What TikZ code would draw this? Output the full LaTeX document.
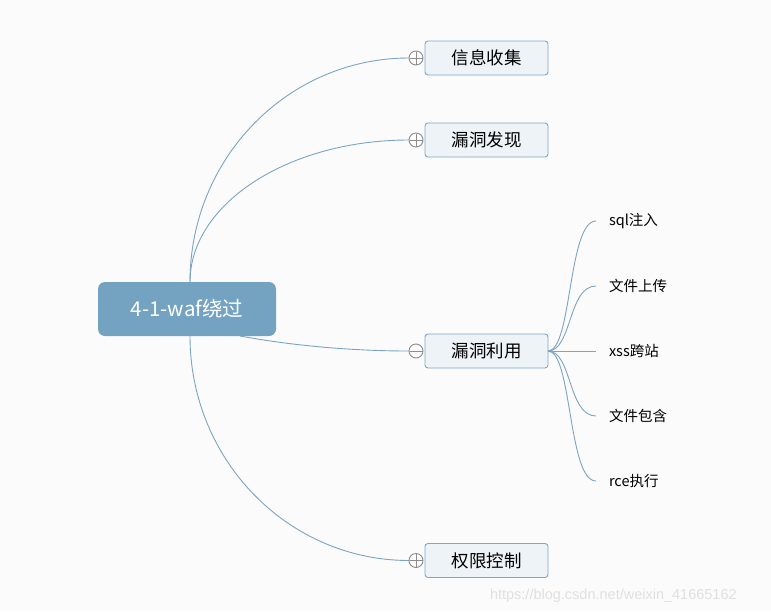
\documentclass[tikz,border=0pt]{standalone}
\usepackage{fontspec}
\setmainfont{Noto Sans CJK SC}
\newfontfamily\wmfont{Liberation Sans}
\begin{document}
\begin{tikzpicture}[x=1pt,y=-1pt,
  every node/.style={inner sep=0pt,outer sep=0pt},
  rootbox/.style={fill=rootblue,rounded corners=7pt,minimum width=178pt,minimum height=54pt,text=white,font=\fontsize{20.5}{22}\selectfont},
  topicbox/.style={fill=topicfill,draw=topicedge,line width=0.9pt,rounded corners=3pt,minimum width=123pt,minimum height=34pt,font=\fontsize{17.5}{19}\selectfont,text=black},
  leaf/.style={anchor=west,font=\fontsize{14.5}{16}\selectfont,text=black},
  conn/.style={draw=linecol,line width=0.9pt},
  toggle/.style={circle,draw=togglecol,line width=0.9pt,fill=white,minimum size=14pt}
]
\definecolor{rootblue}{RGB}{116,163,194}
\definecolor{topicfill}{RGB}{238,243,247}
\definecolor{topicedge}{RGB}{127,166,196}
\definecolor{linecol}{RGB}{125,164,194}
\definecolor{togglecol}{RGB}{140,140,140}
\definecolor{bg}{RGB}{251,251,251}
\fill[bg] (0,0) rectangle (771,611);
\useasboundingbox (0,0) rectangle (771,611);

\node[rootbox] (root) at (187,309) {4-1-waf绕过};

\node[topicbox] (t1) at (486.5,58) {信息收集};
\node[topicbox] (t2) at (486.5,140) {漏洞发现};
\node[topicbox] (t3) at (486.5,351) {漏洞利用};
\node[topicbox] (t4) at (486.5,560.5) {权限控制};

\coordinate (r1) at (190,282);
\coordinate (r3) at (240,336);
\coordinate (r4) at (190,336);

\draw[conn] (r1) .. controls (190,158) and (288,58) .. (409,58);
\draw[conn] (r1) .. controls (190,204) and (288,140) .. (409,140);
\draw[conn] (r3) .. controls (300,347) and (360,351) .. (409,351);
\draw[conn] (r4) .. controls (190,460) and (288,560.5) .. (409,560.5);

\node[toggle] (c1) at (416,58) {};
\node[toggle] (c2) at (416,140) {};
\node[toggle] (c3) at (416,351) {};
\node[toggle] (c4) at (416,560.5) {};
\draw[togglecol,line width=0.9pt] (409.5,58)--(422.5,58) (416,51.5)--(416,64.5);
\draw[togglecol,line width=0.9pt] (409.5,140)--(422.5,140) (416,133.5)--(416,146.5);
\draw[togglecol,line width=0.9pt] (409.5,351)--(422.5,351);
\draw[togglecol,line width=0.9pt] (409.5,560.5)--(422.5,560.5) (416,554)--(416,567);

\node[leaf] (l1) at (609,221) {sql注入};
\node[leaf] (l2) at (609,286) {文件上传};
\node[leaf] (l3) at (609,351) {xss跨站};
\node[leaf] (l4) at (609,416) {文件包含};
\node[leaf] (l5) at (609,481) {rce执行};

\coordinate (s0) at (548,351);
\coordinate (e1) at (596,221);
\coordinate (e2) at (596,286);
\coordinate (e3) at (596,351);
\coordinate (e4) at (596,416);
\coordinate (e5) at (596,481);
\draw[conn] (s0) .. controls (572,351) and (568,221) .. (e1);
\draw[conn] (s0) .. controls (572,351) and (568,286) .. (e2);
\draw[conn] (s0) -- (e3);
\draw[conn] (s0) .. controls (572,351) and (568,416) .. (e4);
\draw[conn] (s0) .. controls (572,351) and (568,481) .. (e5);

\node[anchor=west,font=\wmfont\fontsize{14.5}{16}\selectfont,text=black!12] (wm) at (490,596) {https://blog.csdn.net/weixin\_41665162};
\end{tikzpicture}
\end{document}
